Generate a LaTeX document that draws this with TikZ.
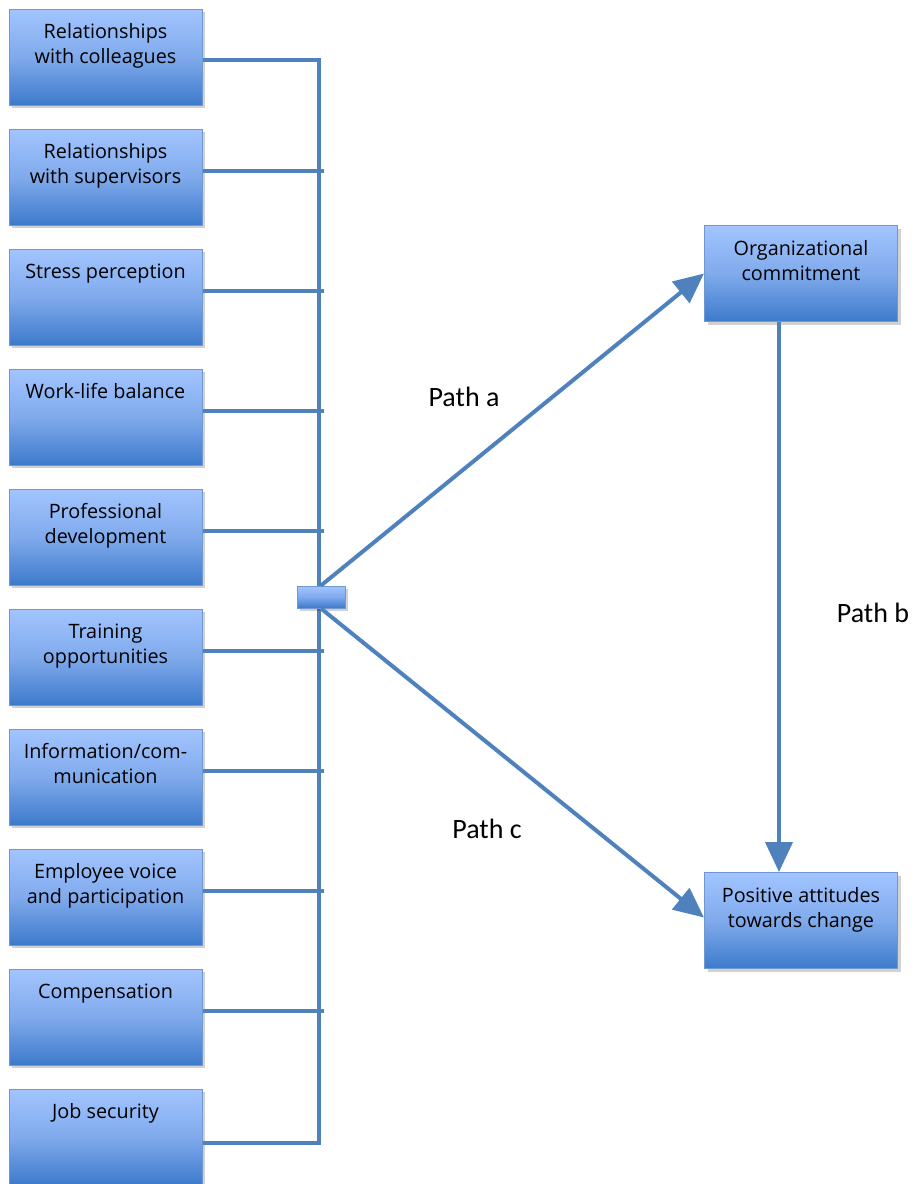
\documentclass[tikz,border=0pt]{standalone}
\usepackage{fontspec}
\setmainfont{Carlito}
\newfontfamily\boxfont{Open Sans}
\usetikzlibrary{arrows.meta,positioning,shadows}
\definecolor{LineBlue}{HTML}{4F81BD}
\definecolor{BoxTop}{HTML}{A2C5FF}
\definecolor{BoxMid}{HTML}{80AAEC}
\definecolor{BoxBottom}{HTML}{3D7ACB}
\definecolor{BoxEdge}{HTML}{6D98D0}
\tikzset{
    factor/.style={draw=BoxEdge, line width=1pt, top color=BoxTop, bottom color=BoxBottom, middle color=BoxMid,
        minimum width=193pt, minimum height=96pt, inner sep=0pt,
        drop shadow={shadow xshift=3pt, shadow yshift=-3pt, fill=black, opacity=0.18}},
    factortext/.style={align=center, inner sep=0pt, font=\boxfont\fontsize{19.8}{25}\selectfont},
    link/.style={draw=LineBlue, line width=4pt},
    patharrow/.style={link, -{Triangle[length=30pt,width=27pt]}},
    pathlabel/.style={inner sep=0pt, font=\fontsize{28}{30}\selectfont},
}
% box with its text set at the top
\newcommand\FactorBox[4]{%
    \node[factor] (#1) at (#2,#3) {};
    \node[factortext, below=15pt of #1.north] (#1-t) {#4};
}
% left box joined to the bus
\newcommand\BusBox[3]{%
    \FactorBox{#1}{105.5}{#2}{#3}
    \draw[link] ([yshift=6pt]#1.east) -- ++(121,0);
}

\begin{document}
\begin{tikzpicture}[x=1pt,y=-1pt]
    \useasboundingbox (0,0) rectangle (915,1184);
    % factors
    \FactorBox{colleagues}{105.5}{57}{Relationships\\with colleagues}
    \BusBox{supervisors}{177}{Relationships\\with supervisors}
    \BusBox{stress}{297}{Stress perception}
    \BusBox{balance}{417}{Work-life balance}
    \BusBox{development}{537}{Professional\\development}
    \BusBox{training}{657}{Training\\opportunities}
    \BusBox{information}{777}{Information/com-\\munication}
    \BusBox{voice}{897}{Employee voice\\and participation}
    \BusBox{compensation}{1017}{Compensation}
    \FactorBox{security}{105.5}{1137}{Job security}
    % bus
    \coordinate (BusTop) at (319,60);
    \coordinate (BusEnd) at (319,1143);
    \draw[link] ([yshift=-3pt]colleagues.east) -- (BusTop) -- (BusEnd) -- ([yshift=-6pt]security.east);
    \node[factor, minimum width=48pt, minimum height=22pt] (hub) at (321,597) {};
    % outcomes
    \FactorBox{commitment}{801}{273.5}{Organizational\\commitment}
    \FactorBox{attitudes}{801}{920.5}{Positive attitudes\\towards change}
    \begin{scope} % paths
        \draw[patharrow] (hub.north) -- (commitment.west);
        \draw[patharrow] (hub.south) -- ([yshift=3pt]attitudes.west);
        \draw[patharrow] ([xshift=-22pt]commitment.south) -- ([xshift=-22pt]attitudes.north);
        \node[pathlabel] (patha) at (464,397) {Path a};
        \node[pathlabel] (pathb) at (873,613) {Path b};
        \node[pathlabel] (pathc) at (487,829) {Path c};
    \end{scope}
\end{tikzpicture}
\end{document}
